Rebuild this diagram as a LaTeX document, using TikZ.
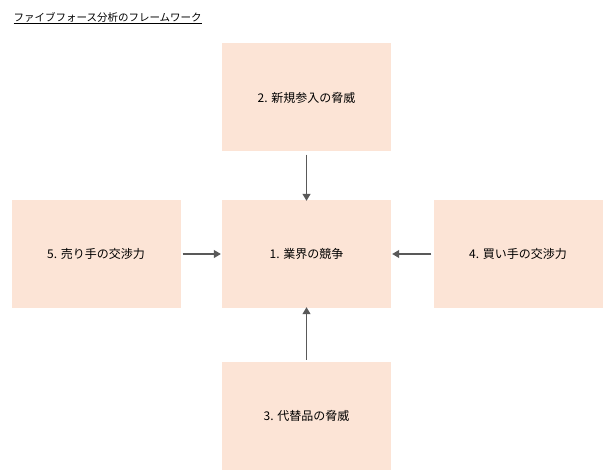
\documentclass[tikz,border=0pt]{standalone}
\usepackage{fontspec}
\setmainfont{Noto Sans CJK JP}
\usetikzlibrary{arrows.meta}
\definecolor{boxfill}{HTML}{FCE4D6}
\definecolor{arr}{HTML}{595959}
\tikzset{
  forcebox/.style={fill=boxfill,draw=none,minimum width=169pt,minimum height=108pt,font=\fontsize{12}{14}\selectfont,inner sep=0pt},
  conn/.style={draw=arr,line width=1.2pt,-{Triangle[length=7pt,width=8pt]}}
}
\begin{document}
\begin{tikzpicture}[x=1pt,y=-1pt]
\useasboundingbox (0,0) rectangle (604,470);
\node[anchor=west,font=\fontsize{10.5}{12}\selectfont] (title) at (10,18) {\underline{ファイブフォース分析のフレームワーク}};
\node[forcebox] (top) at (306.5,97.5) {2. 新規参入の脅威};
\node[forcebox] (mid) at (306.5,254) {1. 業界の競争};
\node[forcebox] (left) at (96,254) {5. 売り手の交渉力};
\node[forcebox] (right) at (518,254) {4. 買い手の交渉力};
\node[forcebox] (bot) at (306.5,416) {3. 代替品の脅威};
\draw[conn] ([yshift=-3pt]top.south) -- ([yshift=-1pt]mid.north);
\draw[conn] ([xshift=2pt]left.east) -- ([xshift=-1pt]mid.west);
\draw[conn] ([xshift=-2pt]right.west) -- ([xshift=1pt]mid.east);
\draw[conn] ([yshift=2pt]bot.north) -- ([yshift=1pt]mid.south);
\end{tikzpicture}
\end{document}
